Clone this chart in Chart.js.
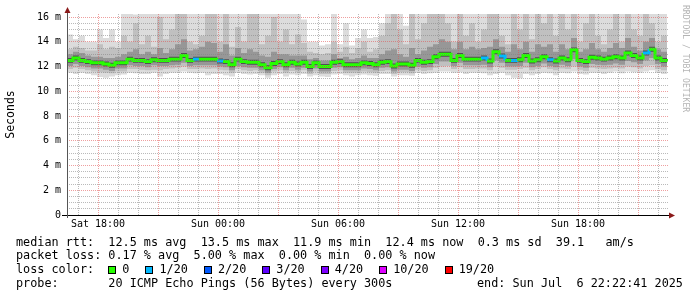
<!DOCTYPE html>
<html>
<head>
<meta charset="utf-8">
<script src="https://cdn.jsdelivr.net/npm/chart.js@4/dist/chart.umd.min.js"></script>
<style>
  html, body { margin: 0; padding: 0; background: #fff; }
  #wrap   { position: relative; width: 697px; height: 297px; overflow: hidden; background: #fff; }
  #chart  { position: absolute; left: 0; top: 0; }
  .row    { position: absolute; left: 16px; font: 11.8px 'DejaVu Sans Mono', monospace; color: #000;
            white-space: pre; line-height: 14px; }
  .box    { display: inline-block; width: 6px; height: 6px; border: 1px solid #000; margin-right: 6px;
            vertical-align: -1px; }
  .lbl    { display: inline-block; margin-right: 16px; }
  #credit { position: absolute; left: 681px; top: 5px; writing-mode: vertical-rl;
            font: 8.1px 'DejaVu Sans Mono', monospace; color: #b4b4b4; white-space: pre; }
</style>
</head>
<body>
<div id="wrap">
  <canvas id="chart" width="697" height="297"></canvas>
  <div id="credit">RRDTOOL / TOBI OETIKER</div>
  <div class="row" style="top:234.7px">median rtt:  12.5 ms avg  13.5 ms max  11.9 ms min  12.4 ms now  0.3 ms sd  39.1   am/s</div>
  <div class="row" style="top:248.3px">packet loss: 0.17 % avg  5.00 % max  0.00 % min  0.00 % now</div>
  <div class="row" id="loss-row" style="top:262px">loss color:  </div>
  <div class="row" style="top:275.7px">probe:       20 ICMP Echo Pings (56 Bytes) every 300s</div>
  <div class="row" style="top:275.7px;left:477px">end: Sun Jul  6 22:22:41 2025</div>
</div>
<script>
// ─────────────────────────────────────────────
//  Data (ms, 18-minute steps from Sat 16:27)
// ─────────────────────────────────────────────

const START_H = 16.45; // hours after Sat 00:00
const STEP_H  = 0.3;

const medianMs = [12.5,12.7,12.5,12.4,12.3,12.3,12.2,12.1,12.3,12.3,
  12.6,12.5,12.5,12.4,12.55,12.5,12.5,12.6,12.6,12.9,
  12.5,12.6,12.6,12.6,12.6,12.45,12.4,12.15,12.6,12.4,
  12.35,12.35,12.15,11.9,12.25,12.4,12.15,12.35,12.2,12.35,
  12.0,12.3,12.0,12.0,12.35,12.4,12.15,12.15,12.15,12.3,
  12.25,12.15,12.35,12.4,12.05,12.2,12.2,12.1,12.5,12.35,
  12.4,12.8,13.0,13.0,12.5,12.9,12.6,12.6,12.6,12.7,
  12.45,13.2,12.85,12.5,12.5,12.55,12.9,12.45,12.55,12.8,
  12.55,12.45,12.7,12.55,13.35,12.5,12.4,12.75,12.7,12.6,
  12.7,12.8,12.7,13.1,12.9,12.7,13.1,13.4,12.7,12.5,12.4];

// lost pings out of 20, per step
const lossCount = [0,0,0,0,0,0,0,0,0,0, 0,0,0,0,0,0,0,0,0,0,
  0,1,0,0,0,1,0,0,0,0, 0,0,0,0,0,0,0,0,0,0,
  0,0,0,0,0,0,0,0,0,0, 0,0,0,0,0,0,0,0,0,0,
  0,0,0,0,0,0,0,0,0,1, 0,0,1,0,1,0,0,0,0,0,
  1,0,0,0,0,0,0,0,0,0, 0,0,0,0,0,0,1,0,0,0,0];

// smoke: spread of the 20 pings
const maxMs = [14.6,14.2,14.5,14.0,14.0,15.0,14.3,15.0,14.0,16.5,
  16.5,16.2,16.5,16.5,16.3,16.5,16.5,16.5,16.5,16.5,
  16.5,16.5,16.5,16.5,16.5,16.5,16.5,16.5,16.5,16.5,
  16.5,16.5,16.5,16.5,16.5,16.5,16.5,16.5,16.5,15.8,
  14.0,14.0,13.7,13.8,16.5,13.8,15.5,13.7,14.3,15.0,
  14.3,14.4,15.5,16.5,16.5,16.5,15.3,16.5,16.5,16.5,
  16.5,16.5,16.5,16.5,16.5,16.5,16.5,16.5,16.5,16.5,
  16.5,16.5,16.5,16.5,16.5,16.5,16.5,16.5,16.5,16.5,
  16.5,16.5,16.5,16.5,16.5,16.5,16.5,16.5,16.5,16.5,
  16.5,16.5,16.5,16.5,16.5,16.5,16.5,16.5,16.5,16.5,16.5];

const p90Ms = [13.4,13.6,13.5,13.3,13.3,13.8,13.4,13.6,13.5,14.5,
  14.0,15.5,13.8,14.5,13.6,16.0,14.2,15.0,16.5,16.5,
  14.0,13.8,14.5,16.5,16.5,14.0,16.5,13.6,15.2,14.0,
  16.5,16.5,13.8,14.5,16.0,14.0,15.0,13.8,14.6,13.9,
  13.2,13.1,13.0,13.1,14.0,13.2,13.6,13.1,13.5,14.0,
  13.2,13.4,14.5,15.5,16.5,15.0,13.8,16.5,14.2,15.5,
  16.5,16.5,16.5,15.5,14.0,16.5,14.5,15.5,14.0,15.0,
  16.5,16.5,14.5,13.8,16.5,15.0,16.5,14.2,16.5,15.5,
  16.5,14.5,16.5,15.0,16.5,14.0,15.5,16.5,14.5,13.8,
  15.0,16.5,14.0,16.5,15.0,14.5,16.5,15.5,14.0,14.5,14.0];

const p75Ms = [13.0,13.2,13.1,12.9,12.8,12.8,12.7,12.7,12.8,13.0,
  13.2,13.4,13.0,13.2,13.0,13.5,13.1,13.4,13.8,14.2,
  13.3,13.4,13.6,14.0,13.9,13.2,13.8,12.9,13.5,13.1,
  13.4,13.2,12.9,12.8,13.2,13.0,13.0,12.9,12.9,12.9,
  12.6,12.7,12.5,12.5,13.0,12.7,12.8,12.6,12.7,12.9,
  12.7,12.7,13.0,13.3,13.4,13.0,12.8,13.5,13.0,13.3,
  13.6,13.8,14.2,14.0,13.4,14.0,13.4,13.6,13.4,13.5,
  13.6,14.2,13.6,13.2,13.8,13.4,14.0,13.2,13.8,13.6,
  13.8,13.2,13.8,13.4,14.3,13.2,13.4,13.9,13.4,13.2,
  13.5,13.9,13.5,14.3,13.6,13.3,14.0,14.3,13.4,13.2,13.1];

const p60Ms = [12.7,12.9,12.7,12.6,12.5,12.5,12.4,12.3,12.5,12.5,
  12.8,12.7,12.7,12.6,12.75,12.7,12.7,12.8,12.8,13.1,
  12.7,12.8,12.8,12.8,12.8,12.65,12.6,12.35,12.8,12.6,
  12.55,12.55,12.35,12.1,12.45,12.6,12.35,12.55,12.4,12.55,
  12.2,12.5,12.2,12.2,12.55,12.6,12.35,12.35,12.35,12.5,
  12.45,12.35,12.55,12.6,12.25,12.4,12.4,12.3,12.7,12.55,
  12.6,13.0,13.2,13.2,12.7,13.1,12.8,12.8,12.8,12.9,
  12.65,13.4,13.05,12.7,12.7,12.75,13.1,12.65,12.75,13.0,
  12.75,12.65,12.9,12.75,13.55,12.7,12.6,12.95,12.9,12.8,
  12.9,13.0,12.9,13.3,13.1,12.9,13.3,13.6,12.9,12.7,12.6];

const p40Ms = [12.3,12.5,12.3,12.2,12.1,12.1,12.0,11.9,12.1,12.1,
  12.4,12.3,12.3,12.2,12.35,12.3,12.3,12.4,12.4,12.7,
  12.3,12.4,12.4,12.4,12.4,12.25,12.2,11.95,12.4,12.2,
  12.15,12.15,11.95,11.7,12.05,12.2,11.95,12.15,12.0,12.15,
  11.8,12.1,11.8,11.8,12.15,12.2,11.95,11.95,11.95,12.1,
  12.05,11.95,12.15,12.2,11.85,12.0,12.0,11.9,12.3,12.15,
  12.2,12.6,12.8,12.8,12.3,12.7,12.4,12.4,12.4,12.5,
  12.25,13.0,12.65,12.3,12.3,12.35,12.7,12.25,12.35,12.6,
  12.35,12.25,12.5,12.35,13.15,12.3,12.2,12.55,12.5,12.4,
  12.5,12.6,12.5,12.9,12.7,12.5,12.9,13.2,12.5,12.3,12.2];

const p25Ms = [12.05,12.2,12.05,11.95,11.85,11.85,11.75,11.65,11.85,11.85,
  12.1,12.05,12.05,11.95,12.1,12.05,12.05,12.1,12.15,12.3,
  12.05,12.1,12.1,12.1,12.1,12.0,11.95,11.7,12.05,11.95,
  11.9,11.9,11.7,11.5,11.8,11.95,11.7,11.9,11.75,11.9,
  11.6,11.85,11.6,11.6,11.9,11.95,11.7,11.7,11.7,11.85,
  11.8,11.7,11.9,11.95,11.6,11.75,11.75,11.65,12.0,11.9,
  11.95,12.2,12.4,12.4,12.05,12.3,12.1,12.1,12.1,12.15,
  11.95,12.5,12.3,12.0,12.0,12.05,12.3,11.95,12.05,12.25,
  12.05,11.95,12.15,12.05,12.6,12.0,11.9,12.2,12.15,12.1,
  12.15,12.25,12.15,12.45,12.35,12.2,12.5,12.7,12.2,12.0,11.9];

const p10Ms = [11.8,11.9,11.8,11.7,11.6,11.55,11.5,11.45,11.6,11.6,
  11.8,11.8,11.75,11.7,11.75,11.7,11.8,11.85,11.9,12.0,
  11.8,11.8,11.85,11.8,11.85,11.75,11.7,11.5,11.8,11.7,
  11.65,11.7,11.5,11.3,11.6,11.7,11.5,11.65,11.55,11.7,
  11.4,11.6,11.4,11.4,11.65,11.7,11.5,11.5,11.5,11.6,
  11.55,11.5,11.65,11.7,11.4,11.55,11.55,11.45,11.75,11.65,
  11.7,11.9,12.0,12.05,11.8,11.95,11.8,11.8,11.85,11.85,
  11.7,12.0,11.9,11.75,11.75,11.8,11.9,11.7,11.8,11.95,
  11.8,11.7,11.85,11.8,12.0,11.75,11.65,11.9,11.85,11.8,
  11.85,11.9,11.85,12.0,11.95,11.85,12.05,12.1,11.8,11.7,11.6];

const minMs = [11.5,11.4,11.5,11.4,11.3,11.15,11.1,11.2,11.3,11.35,
  11.5,11.45,11.4,11.4,11.5,11.2,11.4,11.5,11.5,11.6,
  11.5,11.45,11.5,11.3,11.4,11.4,11.3,11.2,11.5,11.4,
  11.35,11.4,11.3,11.1,11.3,11.4,11.2,11.35,11.3,11.4,
  11.2,11.3,11.2,11.15,11.35,11.4,11.3,11.2,11.3,11.35,
  11.3,11.25,11.4,11.4,11.2,11.3,11.3,11.25,11.5,11.4,
  11.45,11.5,11.6,11.6,11.5,11.55,11.4,11.5,11.5,11.45,
  11.3,11.4,11.5,11.3,11.1,11.05,11.4,11.3,11.4,11.5,
  11.45,11.3,11.5,11.45,11.6,11.4,11.35,11.5,11.5,11.4,
  11.5,11.6,11.45,11.6,11.55,11.5,11.6,11.7,11.5,11.4,11.35];

// ─────────────────────────────────────────────
//  Legend / ticks
// ─────────────────────────────────────────────

const lossLabels = ['0', '1/20', '2/20', '3/20', '4/20', '10/20', '19/20'];
const lossLimits = [0, 1, 2, 3, 4, 10, 19];
const lossColors = ['#26ff00', '#00b8ff', '#0059ff', '#5e00ff', '#7e00ff', '#dd00ff', '#ff0000'];

const xTickHours  = [18, 24, 30, 36, 42];
const xTickLabels = ['Sat 18:00', 'Sun 00:00', 'Sun 06:00', 'Sun 12:00', 'Sun 18:00'];
const yTickValues = [0, 2, 4, 6, 8, 10, 12, 14, 16];
const yTickLabels = ['0', '2 m', '4 m', '6 m', '8 m', '10 m', '12 m', '14 m', '16 m'];

function lossColor(n) {
  let k = 0;
  lossLimits.forEach((lim, i) => { if (n >= lim) k = i; });
  return lossColors[k];
}

const lossRow = document.getElementById('loss-row');
lossLabels.forEach((lbl, i) => {
  const b = document.createElement('span');
  b.className = 'box';
  b.style.background = lossColors[i];
  const t = document.createElement('span');
  t.className = 'lbl';
  t.textContent = lbl;
  lossRow.appendChild(b);
  lossRow.appendChild(t);
});

// ─────────────────────────────────────────────
//  Chart
// ─────────────────────────────────────────────

const hours = medianMs.map((_, i) => START_H + i * STEP_H);
const pts   = arr => arr.map((v, i) => ({ x: hours[i], y: v }));
const near  = (a, b) => Math.abs(a - b) < 1e-6;
const CLEAR = 'rgba(0,0,0,0)';

const band = (data, fill, color) => ({
  data: pts(data), fill, backgroundColor: color,
  borderWidth: 0, pointRadius: 0, stepped: true,
});

const MGRID = 'rgba(224,80,80,0.55)';
const GRID  = 'rgba(130,130,130,0.55)';
const MONO  = "'DejaVu Sans Mono', monospace";

const axesPlugin = {
  id: 'rrdAxes',
  afterDraw(chart) {
    const { ctx: c, chartArea: { left, right, top, bottom } } = chart;
    c.save();
    c.strokeStyle = '#000';
    c.lineWidth = 1;
    c.beginPath();
    c.moveTo(left - 5, bottom + 0.5);
    c.lineTo(right + 2, bottom + 0.5);
    c.stroke();
    c.strokeStyle = '#555';
    c.beginPath();
    c.moveTo(left + 0.5, bottom + 3);
    c.lineTo(left + 0.5, top - 3);
    c.stroke();
    c.fillStyle = '#8b1a1a';
    c.beginPath();
    c.moveTo(left + 0.5, top - 7);
    c.lineTo(left - 2.5, top - 1);
    c.lineTo(left + 3.5, top - 1);
    c.closePath();
    c.fill();
    c.beginPath();
    c.moveTo(right + 7, bottom + 0.5);
    c.lineTo(right + 1, bottom - 2.5);
    c.lineTo(right + 1, bottom + 3.5);
    c.closePath();
    c.fill();
    c.restore();
  }
};

new Chart(document.getElementById('chart').getContext('2d'), {
  type: 'line',
  data: {
    datasets: [
      {
        data: pts(medianMs), fill: false, borderWidth: 3, pointRadius: 0, stepped: true,
        borderColor: lossColors[0],
        segment: { borderColor: s => lossColor(lossCount[s.p0DataIndex]) },
      },
      band(p60Ms, '+1', '#505050'), band(p40Ms, false, '#505050'),
      band(p75Ms, '+1', '#979797'), band(p25Ms, false, '#979797'),
      band(p90Ms, '+1', '#c0c0c0'), band(p10Ms, false, '#c0c0c0'),
      band(maxMs, '+1', '#dcdcdc'), band(minMs, false, '#dcdcdc'),
    ]
  },
  options: {
    responsive: false,
    animation: false,
    devicePixelRatio: 1,
    layout: { padding: { top: 14, right: 29, bottom: 62, left: 0 } },
    plugins: { legend: { display: false }, tooltip: { enabled: false } },
    scales: {
      x: {
        type: 'linear', min: START_H, max: 46.5,
        afterFit: s => { s.height = 20; },
        grid: {
          z: 1, drawTicks: false, lineWidth: 1,
          color: g => {
            const v = g.tick.value;
            if (!near(v, Math.round(v))) return CLEAR;
            return Math.round(v) % 3 === 0 ? MGRID : GRID;
          },
        },
        border: { display: false, dash: [1, 1] },
        ticks: {
          stepSize: 1, autoSkip: false, includeBounds: false, maxRotation: 0, padding: 3,
          color: '#000', font: { family: MONO, size: 10 },
          callback: v => { const k = xTickHours.findIndex(h => near(h, v)); return k >= 0 ? xTickLabels[k] : ''; },
        },
      },
      y: {
        min: 0, max: 16.25,
        afterFit: s => { s.width = 67; },
        grid: {
          z: 1, drawTicks: false, lineWidth: 1,
          color: g => {
            const v = g.tick.value;
            if (near(v, 0)) return CLEAR;
            if (yTickValues.some(t => near(t, v))) return MGRID;
            return near(v * 2, Math.round(v * 2)) ? GRID : CLEAR;
          },
        },
        border: { display: false, dash: [1, 1] },
        title: {
          display: true, text: 'Seconds', color: '#000',
          font: { family: MONO, size: 11.5 }, padding: { top: 4, bottom: 0 },
        },
        ticks: {
          stepSize: 0.5, autoSkip: false, includeBounds: false, padding: 6,
          color: '#000', font: { family: MONO, size: 10 },
          callback: v => { const k = yTickValues.findIndex(t => near(t, v)); return k >= 0 ? yTickLabels[k] : ''; },
        },
      }
    }
  },
  plugins: [axesPlugin]
});
</script>
</body>
</html>
